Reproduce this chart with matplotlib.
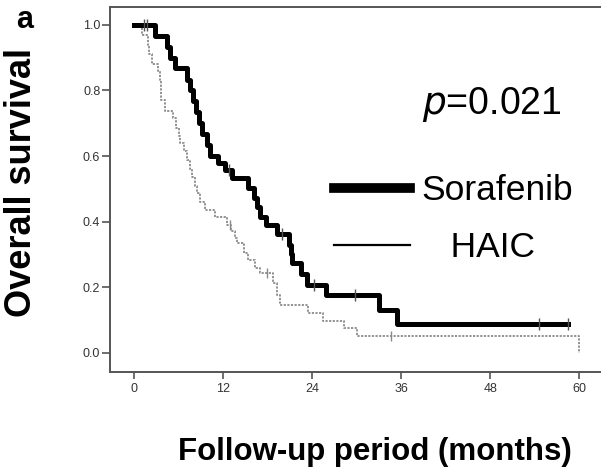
import matplotlib.pyplot as plt
import numpy as np
from matplotlib.lines import Line2D

plt.rcParams['font.family'] = ['Liberation Sans', 'DejaVu Sans']

# Kaplan-Meier steps (months, survival after the drop)
sora_t = [0, 2.8, 4.4, 4.9, 5.5, 7.2, 7.6, 8.0, 8.4, 8.8, 9.2, 9.9, 10.3, 11.3, 12.3,
          13.2, 15.4, 16.2, 16.6, 17.0, 17.8, 19.2, 20.9, 21.1, 21.3, 22.5, 23.3,
          25.8, 33.0, 35.4, 58.5]
sora_s = [1.0, 0.967, 0.933, 0.90, 0.867, 0.833, 0.80, 0.767, 0.733, 0.70, 0.667,
          0.633, 0.60, 0.578, 0.556, 0.533, 0.503, 0.473, 0.444, 0.415, 0.39, 0.363,
          0.33, 0.30, 0.274, 0.24, 0.207, 0.175, 0.131, 0.088, 0.088]
sora_cens_t = [1.3, 1.8, 12.8, 19.9, 24.2, 29.8, 54.6, 58.5]
sora_cens_s = [1.0, 1.0, 0.556, 0.363, 0.207, 0.175, 0.088, 0.088]

haic_t = [0, 1.1, 1.9, 2.0, 2.4, 3.3, 3.5, 3.6, 3.7, 4.2, 5.3, 5.7, 6.0, 6.2, 6.8,
          7.1, 7.5, 7.8, 8.2, 8.5, 8.9, 9.6, 10.9, 12.5, 13.0, 13.6, 13.9, 14.8,
          15.4, 16.3, 17.0, 18.7, 19.2, 19.7, 23.4, 25.4, 28.3, 30.0, 60.0]
haic_s = [1.0, 0.97, 0.94, 0.91, 0.88, 0.86, 0.83, 0.80, 0.77, 0.736, 0.716, 0.686,
          0.66, 0.64, 0.615, 0.588, 0.56, 0.537, 0.51, 0.487, 0.46, 0.436, 0.415,
          0.39, 0.37, 0.35, 0.335, 0.305, 0.284, 0.26, 0.244, 0.213, 0.177, 0.146,
          0.121, 0.098, 0.075, 0.05, 0.0]
haic_cens_t = [12.9, 17.9, 34.6]
haic_cens_s = [0.39, 0.244, 0.05]

xticks = [0, 12, 24, 36, 48, 60]
yticks = [0.0, 0.2, 0.4, 0.6, 0.8, 1.0]

fig = plt.figure(figsize=(6.01, 4.73), dpi=100)
ax = fig.add_axes([110 / 601, 1 - 371.5 / 473, 500 / 601, 364 / 473])

ax.step(haic_t, haic_s, where='post', color='#8a8a8a', lw=1.3,
        linestyle=(0, (1.2, 0.8)))
ax.plot(haic_cens_t, haic_cens_s, '|', color='#8a8a8a', ms=7, mew=1.0)
ax.step(sora_t, sora_s, where='post', color='black', lw=3.6)
ax.plot(sora_cens_t, sora_cens_s, '|', color='#555555', ms=9, mew=1.0)

ax.set_xlim(-3.23, -3.23 + 500 / 7.425)
ax.set_ylim(-0.057, 1.053)
ax.set_xticks(xticks)
ax.set_xticklabels([str(v) for v in xticks])
ax.set_yticks(yticks)
ax.set_yticklabels(['%.1f' % v for v in yticks])
ax.tick_params(labelsize=9, width=1.2, color='#555555', labelcolor='#333333')
ax.tick_params(axis='y', length=6, pad=1)
ax.tick_params(axis='x', length=5, pad=3)
for sp in ax.spines.values():
    sp.set_color('#555555')
    sp.set_linewidth(1.4)

handles = [Line2D([], [], color='black', lw=7),
           Line2D([], [], color='black', lw=1.6)]
fig.legend(handles, ['Sorafenib', '   HAIC'], loc='upper left',
           bbox_to_anchor=(334 / 601, 1 - 174 / 473), frameon=False,
           fontsize=25.5, handlelength=2.15, handletextpad=0.32, labelspacing=0.68,
           borderpad=0, borderaxespad=0)

ax.text(422 / 601, 1 - 104 / 473, r'$p$=0.021', transform=fig.transFigure,
        fontsize=27, va='center', ha='left')

fig.text(22 / 601, 1 - 182 / 473, 'Overall survival', rotation=90, fontsize=26,
         fontweight='bold', ha='center', va='center')
fig.text(375 / 601, 1 - 452 / 473, 'Follow-up period (months)', fontsize=22.5,
         fontweight='bold', ha='center', va='center')
fig.text(25 / 601, 1 - 20 / 473, 'a', fontsize=22, fontweight='bold',
         ha='center', va='center')

fig.savefig('out.png', dpi=100)
